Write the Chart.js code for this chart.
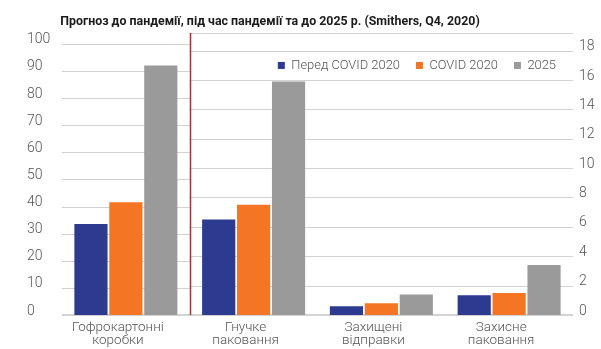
<!DOCTYPE html>
<html>
<head>
<meta charset="utf-8">
<script src="https://cdn.jsdelivr.net/npm/chart.js@4/dist/chart.umd.min.js"></script>
<style>
  html, body { margin: 0; padding: 0; background: #ffffff; }
  #wrap { width: 601px; height: 349px; }
</style>
</head>
<body>
<div id="wrap"><canvas id="c" width="601" height="349"></canvas></div>
<script>
// ---------- data ----------
const categories = [
  ['Гофрокартонні', 'коробки'],
  ['Гнучке', 'паковання'],
  ['Захищені', 'відправки'],
  ['Захисне', 'паковання']
];
const seriesNames = ['Перед COVID 2020', 'COVID 2020', '2025'];
// category 1 is read on the left axis (0–100)
const preCovidLeft = [33.6, null, null, null];
const covidLeft    = [41.6, null, null, null];
const y2025Left    = [92.0, null, null, null];
// categories 2–4 are read on the right axis (0–18)
const preCovidRight = [null, 6.5, 0.6, 1.35];
const covidRight    = [null, 7.5, 0.8, 1.5];
const y2025Right    = [null, 15.9, 1.4, 3.4];
const leftTicks  = [0, 10, 20, 30, 40, 50, 60, 70, 80, 90, 100];
const rightTicks = [0, 2, 4, 6, 8, 10, 12, 14, 16, 18];
const chartTitle = 'Прогноз до пандемії, під час пандемії та до 2025 р. (Smithers, Q4, 2020)';

// ---------- style ----------
const FONT = 'Roboto, "Open Sans", "DejaVu Sans", sans-serif';
const colors = ['#2c3b8f', '#f47523', '#9a9a9a'];
const textColor = '#555555';

const sharedBar = { categoryPercentage: 0.82, barPercentage: 0.95, skipNull: true, borderWidth: 0 };
const datasets = [
  { label: seriesNames[0], data: preCovidLeft,  yAxisID: 'y',  backgroundColor: colors[0], ...sharedBar },
  { label: seriesNames[1], data: covidLeft,     yAxisID: 'y',  backgroundColor: colors[1], ...sharedBar },
  { label: seriesNames[2], data: y2025Left,     yAxisID: 'y',  backgroundColor: colors[2], ...sharedBar },
  { label: seriesNames[0], data: preCovidRight, yAxisID: 'y2', backgroundColor: colors[0], ...sharedBar },
  { label: seriesNames[1], data: covidRight,    yAxisID: 'y2', backgroundColor: colors[1], ...sharedBar },
  { label: seriesNames[2], data: y2025Right,    yAxisID: 'y2', backgroundColor: colors[2], ...sharedBar }
];

// split grid: left-axis grid for the first panel, right-axis grid for the rest
const splitGrid = {
  id: 'splitGrid',
  beforeDatasetsDraw(chart) {
    const { ctx, chartArea: a, scales: { x, y, y2 } } = chart;
    const xs = x.getPixelForValue(0.5);
    ctx.save();
    ctx.lineWidth = 1;
    ctx.strokeStyle = '#d2d2d2';
    ctx.beginPath();
    y.ticks.forEach(t => {
      if (t.value === 0) return;
      const py = Math.round(y.getPixelForValue(t.value)) + 0.5;
      ctx.moveTo(a.left, py); ctx.lineTo(xs, py);
    });
    y2.ticks.forEach(t => {
      if (t.value === 0) return;
      const py = Math.round(y2.getPixelForValue(t.value)) + 0.5;
      ctx.moveTo(xs, py); ctx.lineTo(a.right, py);
    });
    const pt = Math.round(a.top) + 0.5;
    ctx.moveTo(xs, pt); ctx.lineTo(a.right, pt);
    ctx.stroke();
    ctx.strokeStyle = '#c4c4c4';
    ctx.lineWidth = 1.5;
    ctx.beginPath();
    ctx.moveTo(a.left, a.bottom); ctx.lineTo(a.right, a.bottom);
    ctx.stroke();
    ctx.restore();
  },
  afterDatasetsDraw(chart) {
    const { ctx, chartArea: a, scales: { x } } = chart;
    const xs = Math.round(x.getPixelForValue(0.5)) + 0.5;
    ctx.save();
    ctx.strokeStyle = '#b02a30';
    ctx.lineWidth = 1.5;
    ctx.beginPath();
    ctx.moveTo(xs, a.top); ctx.lineTo(xs, a.bottom);
    ctx.stroke();
    ctx.restore();
  }
};

// move the legend inside the plot area (top right)
const legendInside = {
  id: 'legendInside',
  afterLayout(chart) {
    const lg = chart.legend;
    const a = chart.chartArea;
    if (!lg) return;
    lg.left = a.left;
    lg.right = a.right;
    lg.width = a.right - a.left;
    lg.top = 43;
    lg.bottom = 43 + 40;
    lg.height = 40;
    if (lg.lineWidths) lg.lineWidths = lg.lineWidths.map(w => w + 1);
  }
};

// title text
const titlePlugin = {
  id: 'titleText',
  afterDraw(chart) {
    const ctx = chart.ctx;
    ctx.save();
    ctx.font = 'bold 13px ' + FONT;
    const w = ctx.measureText(chartTitle).width;
    let size = 13 * 420 / w;
    size = Math.max(11, Math.min(14.5, size));
    ctx.font = 'bold ' + size.toFixed(2) + 'px ' + FONT;
    ctx.fillStyle = '#1b1b1b';
    ctx.textAlign = 'center';
    ctx.textBaseline = 'middle';
    ctx.fillText(chartTitle, 270, 22);
    ctx.restore();
  }
};

new Chart(document.getElementById('c'), {
  type: 'bar',
  data: { labels: categories, datasets },
  plugins: [splitGrid, legendInside, titlePlugin],
  options: {
    responsive: false,
    animation: false,
    devicePixelRatio: 1,
    layout: { padding: { top: 32, left: 27, right: 0, bottom: 0 } },
    plugins: {
      title: { display: false },
      tooltip: { enabled: false },
      legend: {
        display: true,
        position: 'top',
        align: 'end',
        maxHeight: 1,
        labels: {
          boxWidth: 7,
          boxHeight: 7,
          padding: 16,
          color: textColor,
          font: { family: FONT, size: 12.9, weight: 300 },
          filter: item => item.datasetIndex < 3
        }
      }
    },
    scales: {
      x: {
        offset: true,
        grid: { display: false, drawTicks: false },
        border: { display: false },
        afterFit: s => { s.height = 34; s.paddingLeft = 0; s.paddingRight = 0; },
        ticks: {
          color: textColor,
          font: { family: FONT, size: 13.5, weight: 300, lineHeight: 0.96 },
          padding: 6,
          labelOffset: -8,
          maxRotation: 0,
          autoSkip: false
        }
      },
      y: {
        position: 'left',
        min: 0,
        max: 104,
        afterBuildTicks: s => { s.ticks = leftTicks.map(v => ({ value: v })); },
        afterFit: s => { s.width = 35; },
        grid: { display: false, drawTicks: false },
        border: { display: false },
        ticks: {
          crossAlign: 'far',
          padding: 12,
          labelOffset: -4,
          color: textColor,
          font: { family: FONT, size: 14, weight: 300 }
        }
      },
      y2: {
        position: 'right',
        min: 0,
        max: 19.2,
        afterBuildTicks: s => { s.ticks = rightTicks.map(v => ({ value: v })); },
        afterFit: s => { s.width = 28; },
        grid: { display: false, drawTicks: false },
        border: { display: false },
        ticks: {
          padding: 6,
          labelOffset: -4,
          color: textColor,
          font: { family: FONT, size: 14, weight: 300 }
        }
      }
    }
  }
});
</script>
</body>
</html>
